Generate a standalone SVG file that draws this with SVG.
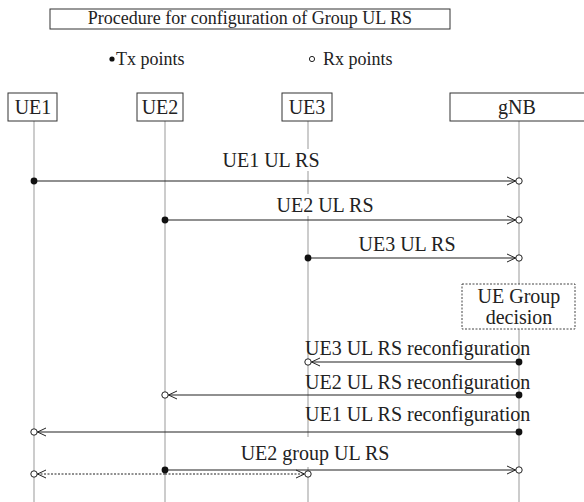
<svg xmlns="http://www.w3.org/2000/svg" width="584" height="502" viewBox="0 0 584 502" font-family="'Liberation Serif', 'Times New Roman', 'DejaVu Serif', serif">
<defs>
<style>
text{font-family:'Liberation Serif','Times New Roman','DejaVu Serif',serif;fill:#222;}
.t18{font-size:18px;}
.t20{font-size:20px;}
.box{fill:#fff;stroke:#333;stroke-width:1;}
.life{stroke:#999;stroke-width:1;fill:none;}
.msg{stroke:#222;stroke-width:1.2;fill:none;}
.dash{stroke:#222;stroke-width:1;fill:none;stroke-dasharray:2 1.5;}
.bg{fill:#fff;}
</style>
<marker id="tx" markerUnits="userSpaceOnUse" viewBox="-4 -4 8 8" refX="0" refY="0" markerWidth="8" markerHeight="8" orient="auto" overflow="visible">
<circle cx="0" cy="0" r="3.4" fill="#111"/>
</marker>
<marker id="rx" markerUnits="userSpaceOnUse" viewBox="-15 -6 20 12" refX="0" refY="0" markerWidth="20" markerHeight="12" orient="auto" overflow="visible">
<path d="M-12,-4 L-3.5,0 L-12,4" fill="none" stroke="#222" stroke-width="1"/>
<circle cx="0" cy="0" r="3.2" fill="#fff" stroke="#222" stroke-width="1"/>
</marker>
</defs>
<rect width="584" height="502" fill="#fff"/>

<g id="title">
<rect class="box" x="50" y="9" width="400" height="20"/>
<text class="t18" x="250" y="24" text-anchor="middle" font-family="Liberation Serif">Procedure for configuration of Group UL RS</text>
</g>

<g id="legend">
<circle cx="112" cy="59" r="2.6" fill="#111"/>
<text class="t18" x="116" y="65">Tx points</text>
<circle cx="312" cy="59" r="2.6" fill="#fff" stroke="#222" stroke-width="1"/>
<text class="t18" x="323" y="65">Rx points</text>
</g>

<g id="lifelines">
<line class="life" x1="34" y1="121" x2="34" y2="502"/>
<line class="life" x1="165" y1="121" x2="165" y2="502"/>
<line class="life" x1="308" y1="121" x2="308" y2="502"/>
<line class="life" x1="519" y1="121" x2="519" y2="502"/>
</g>

<g id="UE1">
<rect class="box" x="8" y="93" width="49" height="28"/>
<text class="t20" x="33" y="114" text-anchor="middle">UE1</text>
</g>
<g id="UE2">
<rect class="box" x="137" y="93" width="46" height="28"/>
<text class="t20" x="160" y="114" text-anchor="middle">UE2</text>
</g>
<g id="UE3">
<rect class="box" x="282" y="93" width="50" height="28"/>
<text class="t20" x="307" y="114" text-anchor="middle">UE3</text>
</g>
<g id="gNB">
<rect class="box" x="450" y="93" width="140" height="28"/>
<text class="t20" x="517" y="114" text-anchor="middle">gNB</text>
</g>

<g id="decision">
<rect x="462" y="284" width="113" height="45" fill="#fff" stroke="#444" stroke-width="1" stroke-dasharray="2 1.5"/>
<text class="t20" x="519" y="303" text-anchor="middle">UE Group</text>
<text class="t20" x="519" y="324" text-anchor="middle">decision</text>
</g>

<g id="connectors">
<rect class="bg" x="222" y="149" width="98" height="22"/>
<text class="t20" x="271" y="167" text-anchor="middle">UE1 UL RS</text>
<path class="msg" d="M34,181 H519" marker-start="url(#tx)" marker-end="url(#rx)"/>

<rect class="bg" x="276" y="194" width="98" height="22"/>
<text class="t20" x="325" y="212" text-anchor="middle">UE2 UL RS</text>
<path class="msg" d="M165,220 H519" marker-start="url(#tx)" marker-end="url(#rx)"/>

<text class="t20" x="407" y="251" text-anchor="middle">UE3 UL RS</text>
<path class="msg" d="M308,258 H519" marker-start="url(#tx)" marker-end="url(#rx)"/>

<text class="t20" x="305" y="355">UE3 UL RS reconfiguration</text>
<path class="msg" d="M519,362 H308" marker-start="url(#tx)" marker-end="url(#rx)"/>

<text class="t20" x="305" y="389">UE2 UL RS reconfiguration</text>
<path class="msg" d="M519,395 H165" marker-start="url(#tx)" marker-end="url(#rx)"/>

<text class="t20" x="305" y="421">UE1 UL RS reconfiguration</text>
<path class="msg" d="M519,432 H34" marker-start="url(#tx)" marker-end="url(#rx)"/>

<rect class="bg" x="240" y="437" width="150" height="30"/>
<text class="t20" x="315" y="460" text-anchor="middle">UE2 group UL RS</text>
<path class="msg" d="M165,470 H519" marker-start="url(#tx)" marker-end="url(#rx)"/>
<path class="dash" d="M165,474 H34" marker-end="url(#rx)"/>
<path class="dash" d="M165,474 H308" marker-end="url(#rx)"/>
</g>
</svg>
